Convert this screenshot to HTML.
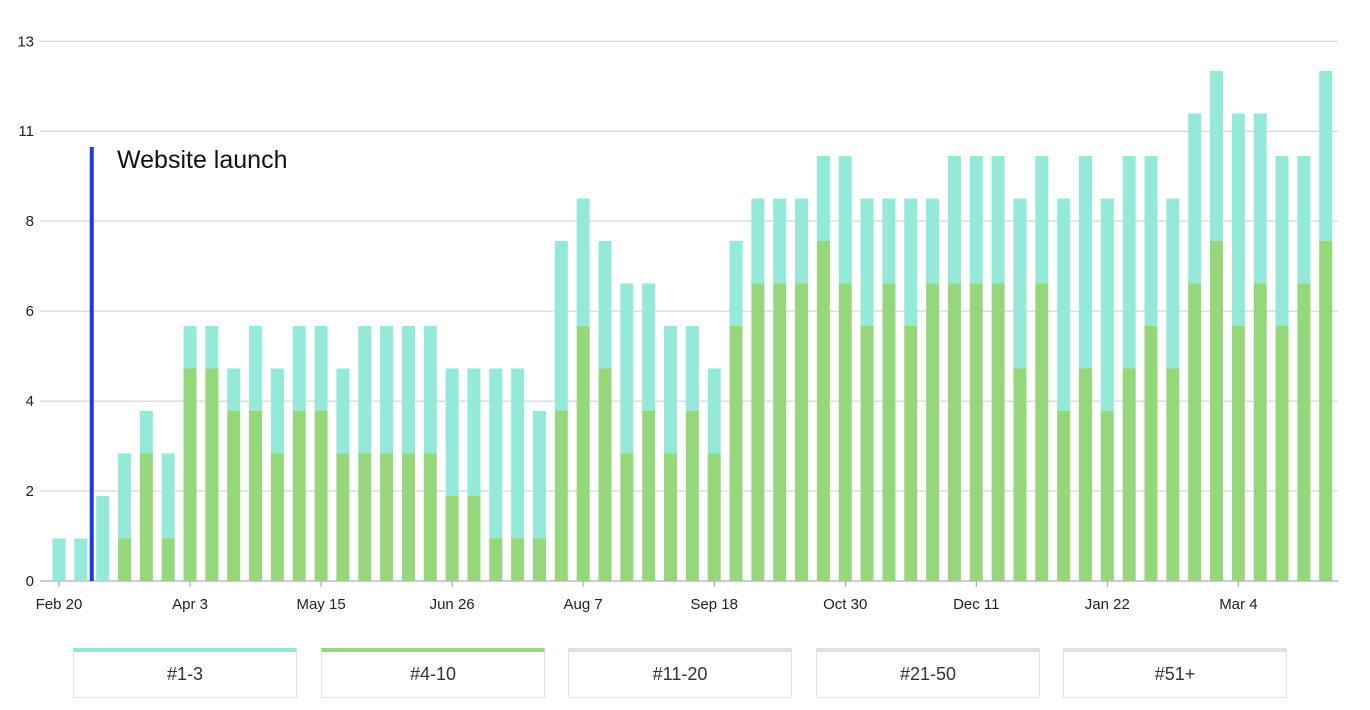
<!DOCTYPE html>
<html><head><meta charset="utf-8">
<style>
body{margin:0;background:#fff;font-family:"Liberation Sans",sans-serif;}
#wrap{position:relative;width:1370px;height:710px;overflow:hidden;}
.leg{position:absolute;top:648px;width:222px;height:45px;border:1px solid #e2e2e2;border-top:4px solid #dde3e3;box-sizing:content-box;text-align:center;line-height:45px;font-size:18px;color:#333;background:#fff;}
</style></head><body>
<div id="wrap">
<svg id="chart" width="1370" height="640" style="position:absolute;left:0;top:0"></svg>
<div class="leg" style="left:73px;border-top-color:#8ee8d8">#1-3</div>
<div class="leg" style="left:321px;border-top-color:#97d87a">#4-10</div>
<div class="leg" style="left:568px">#11-20</div>
<div class="leg" style="left:816px">#21-50</div>
<div class="leg" style="left:1063px">#51+</div>
</div>
<script>
const totals=[1,1,2,3,4,3,6,6,5,6,5,6,6,5,6,6,6,6,5,5,5,5,4,8,9,8,7,7,6,6,5,8,9,9,9,10,10,9,9,9,9,10,10,10,9,10,9,10,9,10,10,9,11,12,11,11,10,10,12];
const greens=[0,0,0,1,3,1,5,5,4,4,3,4,4,3,3,3,3,3,2,2,1,1,1,4,6,5,3,4,3,4,3,6,7,7,7,8,7,6,7,6,7,7,7,7,5,7,4,5,4,5,6,5,7,8,6,7,6,7,8];
const tickLabels=["0","2","4","6","8","11","13"];
const xLabels=["Feb 20","Apr 3","May 15","Jun 26","Aug 7","Sep 18","Oct 30","Dec 11","Jan 22","Mar 4"];
const launchIndex=1.5;
const yMax=12.7;
const svg=document.getElementById('chart');
const NS='http://www.w3.org/2000/svg';
const y0=581,pxU=42.5;
const y=v=>y0-v*pxU;
const x=i=>59+i*21.84;
function mk(t,a){const e=document.createElementNS(NS,t);for(const k in a)e.setAttribute(k,a[k]);svg.appendChild(e);return e;}
tickLabels.forEach((t,i)=>{
 const v=i*yMax/(tickLabels.length-1);
 const g=mk('line',{x1:40,x2:1338,y1:y(v),y2:y(v),stroke:i==0?'#999':'#ccc','stroke-width':1});
 
 
 const tx=mk('text',{x:34,y:y(v)+5,'text-anchor':'end','font-size':15,fill:'#222'});
 tx.textContent=t;
 
 
});
totals.forEach((t,i)=>{
 const g=greens[i];
 const r1=mk('rect',{x:x(i)-6.5,y:y(t),width:13,height:(t-g)*pxU,fill:'#94e9d9'});
 
 
 if(g>0){const r2=mk('rect',{x:x(i)-6.5,y:y(g),width:13,height:g*pxU,fill:'#97d77b'});
 
 }
});
xLabels.forEach((l,k)=>{
 const i=k*6;
 const tk=mk('line',{x1:x(i),x2:x(i),y1:y0,y2:y0+6,stroke:'#999'});
 
 
 const tx=mk('text',{x:x(i),y:609,'text-anchor':'middle','font-size':15,fill:'#222'});
 tx.textContent=l;
 
 
});
const lx=x(launchIndex);
const ln=mk('rect',{x:lx-2,y:147,width:4,height:y0-147,fill:'#1a3be0'});


const lt=mk('text',{x:117,y:168,'font-size':25,fill:'#111'});
lt.textContent='Website launch';


</script>
</body></html>
